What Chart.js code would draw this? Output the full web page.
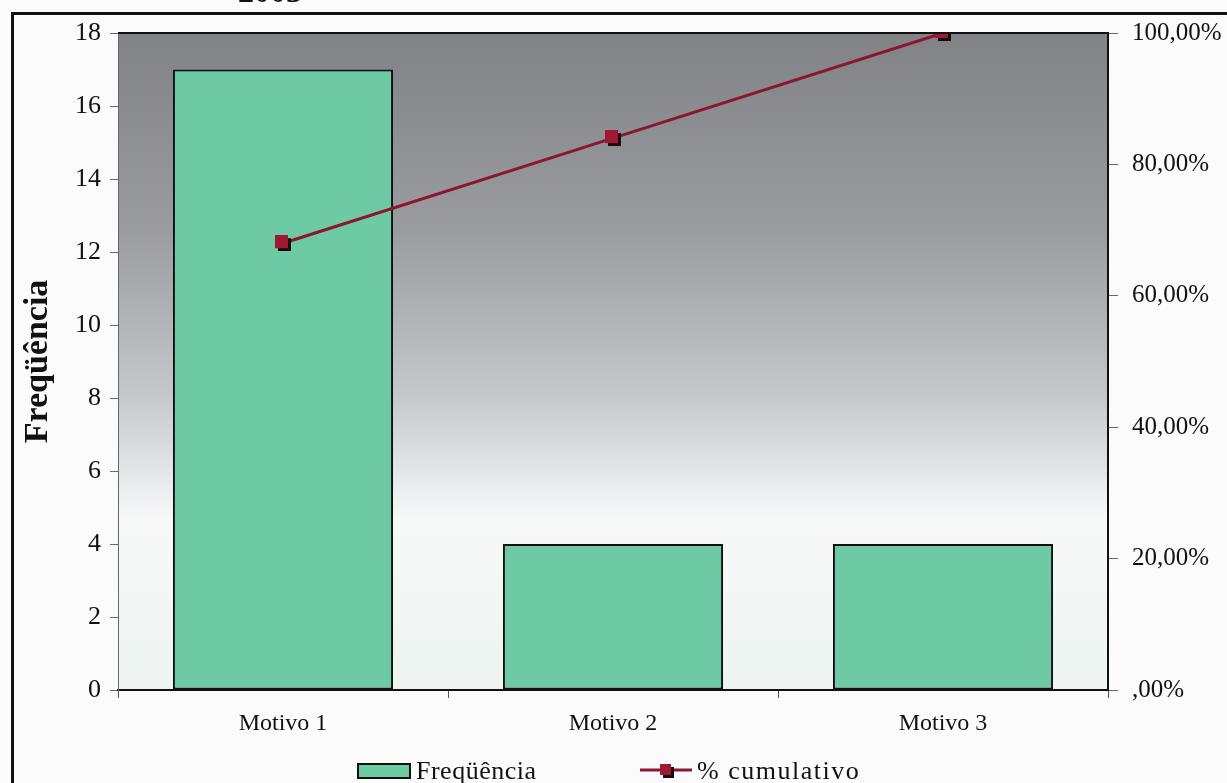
<!DOCTYPE html>
<html>
<head>
<meta charset="utf-8">
<script src="https://cdn.jsdelivr.net/npm/chart.js@4.4.0/dist/chart.umd.min.js"></script>
<style>
    body { margin: 0; background: #fafbfa; overflow: hidden; font-family: "Liberation Serif", serif; }
    #wrap { position: relative; width: 1227px; height: 783px; }
    #frame { position: absolute; left: 11px; top: 12px; width: 1300px; height: 900px; border: 3px solid #111; pointer-events: none; }
    #title { position: absolute; left: 238px; top: -27px; font: bold 32px "Liberation Serif", serif; color: #111; }
    #legend { position: absolute; top: 756px; left: 0; width: 1227px; height: 30px; font: 26px "Liberation Serif", serif; color: #111; }
    .item { position: absolute; top: 0; display: flex; align-items: center; height: 30px; }
    .box { width: 50px; height: 12px; background: #6ec9a5; border: 2px solid #111; margin-right: 5px; }
    .sym { width: 52px; height: 18px; margin-right: 5px; }
    #lgLine { letter-spacing: 1.5px; }
    #lgBar { letter-spacing: 0.5px; }
</style>
</head>
<body>
<div id="wrap">
    <div id="title">2003</div>
    <canvas id="paretoChart" width="1227" height="783"></canvas>
    <div id="frame"></div>
    <div id="legend">
        <div class="item" style="left:357px"><div class="box"></div><span id="lgBar"></span></div>
        <div class="item" style="left:640px"><canvas class="sym" id="lgSym" width="52" height="18"></canvas><span id="lgLine"></span></div>
    </div>
</div>
<script>
// Chart data
const categories = ['Motivo 1', 'Motivo 2', 'Motivo 3'];
const frequencia = [17, 4, 4];
const cumulativo = [0.68, 0.84, 1.00];
const seriesNames = ['Freqüência', '% cumulativo'];
const leftTicks = [0, 2, 4, 6, 8, 10, 12, 14, 16, 18];
const rightTicks = [0, 0.2, 0.4, 0.6, 0.8, 1.0];

const barColor = '#6ec9a5';
const lineColor = '#8e1530';

// square marker with dark shadow, like the old Excel look
function makeMarker(size) {
    const c = document.createElement('canvas');
    c.width = size + 3;
    c.height = size + 3;
    const g = c.getContext('2d');
    g.fillStyle = '#1a0a0c';
    g.fillRect(3, 3, size, size);
    g.fillStyle = '#9e1a34';
    g.fillRect(0, 0, size, size);
    return c;
}
const marker = makeMarker(13);

function pct(v) {
    const s = (v * 100).toFixed(2).replace('.', ',');
    return (s.startsWith('0,') ? s.slice(1) : s) + '%';
}

// gradient fill behind the plot area
const plotBackground = {
    id: 'plotBackground',
    beforeDraw(chart) {
        const { ctx, chartArea: a } = chart;
        const grad = ctx.createLinearGradient(0, a.top, 0, a.bottom);
        grad.addColorStop(0, '#808286');
        grad.addColorStop(0.3, '#9a9ca0');
        grad.addColorStop(0.55, '#c4c8cb');
        grad.addColorStop(0.74, '#f7f9f9');
        grad.addColorStop(1, '#edf4f2');
        ctx.save();
        ctx.fillStyle = grad;
        ctx.fillRect(a.left, a.top, a.right - a.left, a.bottom - a.top);
        ctx.restore();
    },
    afterDraw(chart) {
        const { ctx, chartArea: a } = chart;
        ctx.save();
        ctx.strokeStyle = '#111';
        ctx.lineWidth = 2;
        ctx.beginPath();
        ctx.moveTo(a.left, a.top);
        ctx.lineTo(a.right, a.top);
        ctx.lineTo(a.right, a.bottom);
        ctx.stroke();
        ctx.restore();
    }
};

const serif = '"Liberation Serif", serif';

new Chart(document.getElementById('paretoChart'), {
    data: {
        labels: categories,
        datasets: [
            {
                type: 'line',
                label: seriesNames[1],
                data: cumulativo,
                yAxisID: 'y1',
                borderColor: lineColor,
                borderWidth: 3,
                pointStyle: marker,
                pointRadius: 7,
                order: 0
            },
            {
                type: 'bar',
                label: seriesNames[0],
                data: frequencia,
                yAxisID: 'y',
                backgroundColor: barColor,
                borderColor: '#111',
                borderWidth: 2,
                borderSkipped: false,
                categoryPercentage: 1,
                barPercentage: 0.667,
                order: 1
            }
        ]
    },
    options: {
        responsive: false,
        animation: false,
        layout: { padding: { top: 33, left: 0, right: 0, bottom: 0 } },
        plugins: {
            legend: { display: false },
            tooltip: { enabled: false }
        },
        scales: {
            x: {
                offset: true,
                border: { color: '#111', width: 2 },
                grid: { offset: true, drawOnChartArea: false, tickLength: 8, color: '#555' },
                ticks: { color: '#111', padding: 11, font: { family: serif, size: 24 } },
                afterFit(scale) { scale.height = 93; }
            },
            y: {
                position: 'left',
                min: 0,
                max: 18,
                afterBuildTicks(scale) { scale.ticks = leftTicks.map(v => ({ value: v })); },
                border: { color: '#666', width: 1 },
                grid: { drawOnChartArea: false, tickLength: 8, color: '#666' },
                ticks: { color: '#111', padding: 9, font: { family: serif, size: 26 } },
                title: {
                    display: true,
                    text: seriesNames[0],
                    color: '#111',
                    font: { family: serif, size: 34, weight: 'bold' },
                    padding: { top: 18, bottom: 0 }
                },
                afterFit(scale) { scale.width = 118; }
            },
            y1: {
                position: 'right',
                min: 0,
                max: 1,
                afterBuildTicks(scale) { scale.ticks = rightTicks.map(v => ({ value: v })); },
                border: { color: '#111', width: 2 },
                grid: { drawOnChartArea: false, tickLength: 10, color: '#666' },
                ticks: {
                    color: '#111',
                    padding: 14,
                    font: { family: serif, size: 25 },
                    callback: v => pct(v)
                },
                afterFit(scale) { scale.width = 119; }
            }
        }
    },
    plugins: [plotBackground]
});

// legend built from the same names
document.getElementById('lgBar').textContent = seriesNames[0];
document.getElementById('lgLine').textContent = seriesNames[1];
const lg = document.getElementById('lgSym').getContext('2d');
lg.strokeStyle = lineColor;
lg.lineWidth = 3;
lg.beginPath();
lg.moveTo(0, 8);
lg.lineTo(52, 8);
lg.stroke();
lg.drawImage(makeMarker(11), 20, 2);
</script>
</body>
</html>
